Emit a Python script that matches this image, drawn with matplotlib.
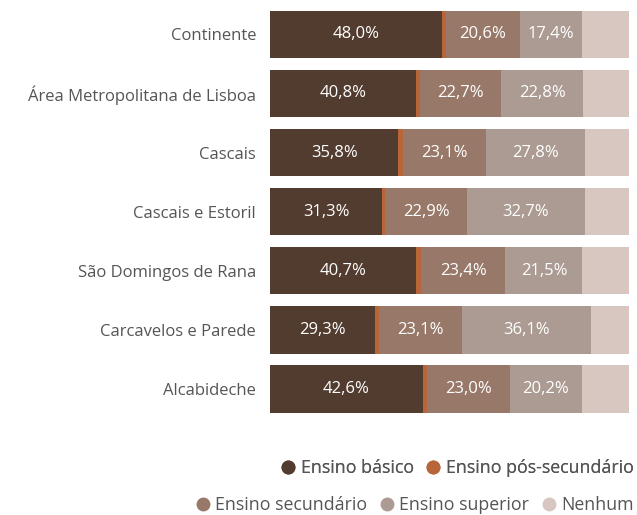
import numpy as np
import matplotlib.pyplot as plt
from matplotlib.lines import Line2D

plt.rcParams['font.family'] = ['Open Sans', 'DejaVu Sans']

regions = ['Continente', 'Área Metropolitana de Lisboa', 'Cascais',
           'Cascais e Estoril', 'São Domingos de Rana', 'Carcavelos e Parede',
           'Alcabideche']
basico = [48.0, 40.8, 35.8, 31.3, 40.7, 29.3, 42.6]
pos_sec = [1.0, 1.0, 1.2, 0.8, 1.5, 1.1, 1.2]
secundario = [20.6, 22.7, 23.1, 22.9, 23.4, 23.1, 23.0]
superior = [17.4, 22.8, 27.8, 32.7, 21.5, 36.1, 20.2]
nenhum = [13.0, 12.7, 12.1, 12.3, 12.9, 10.4, 13.0]

series = [('Ensino básico', basico, '#523c2f', True),
          ('Ensino pós-secundário', pos_sec, '#b8653a', False),
          ('Ensino secundário', secundario, '#987868', True),
          ('Ensino superior', superior, '#ab9b93', True),
          ('Nenhum', nenhum, '#d8c6c0', False)]

fig = plt.figure(figsize=(6.37, 5.15), dpi=100)
ax = fig.add_axes([0.424, 0.187, 0.563, 0.804])

y = np.arange(len(regions))
left = np.zeros(len(regions))
for name, vals, col, show in series:
    vals = np.array(vals)
    ax.barh(y, vals, left=left, height=0.8, color=col, edgecolor='none')
    if show:
        for yi, l, v in zip(y, left, vals):
            ax.text(l + v / 2, yi, f'{v:.1f}%'.replace('.', ','),
                    ha='center', va='center', color='white', fontsize=12)
    left += vals

ax.set_xlim(0, 100)
ax.set_ylim(len(regions) - 0.5, -0.5)
ax.set_yticks(y)
ax.set_yticklabels(regions, fontsize=12, color='#555555')
ax.tick_params(axis='y', length=0, pad=10)
ax.set_xticks([])
for s in ax.spines.values():
    s.set_visible(False)

def handles(items):
    return [Line2D([], [], marker='o', linestyle='none', markersize=10,
                   markerfacecolor=c, markeredgecolor='none', label=n)
            for n, _, c, _ in items]

leg_kw = dict(loc='center right', frameon=False, fontsize=12.8,
              handletextpad=-0.3, columnspacing=0.1, borderaxespad=0.0,
              borderpad=0.0, labelcolor='#555555')
leg1 = fig.legend(handles=handles(series[:2]), ncol=2,
                  bbox_to_anchor=(0.995, 0.091), **leg_kw)
fig.add_artist(leg1)
fig.legend(handles=handles(series[2:]), ncol=3,
           bbox_to_anchor=(0.995, 0.019), **leg_kw)

fig.savefig('out.png', dpi=100)
